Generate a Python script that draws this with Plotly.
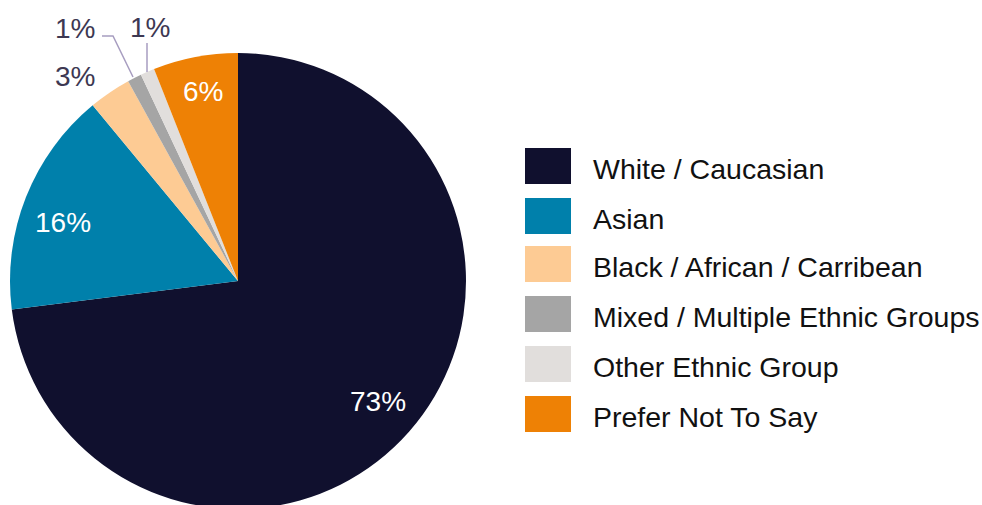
import plotly.graph_objects as go

# Ethnicity breakdown (percent of respondents)
categories = [
    "White / Caucasian",
    "Asian",
    "Black / African / Carribean",
    "Mixed / Multiple Ethnic Groups",
    "Other Ethnic Group",
    "Prefer Not To Say",
]
shares = [73, 16, 3, 1, 1, 6]
colors = ["#10102e", "#0080ab", "#fdcb94", "#a5a5a5", "#e1dedc", "#ee8105"]

W, H = 982, 562          # canvas; pie is centred at (238, 281) px
CX, CY, R = 238, 281, 228
FONT = "Liberation Sans, Arial, sans-serif"

fig = go.Figure()
fig.add_trace(go.Pie(
    labels=categories,
    values=shares,
    sort=False,
    direction="clockwise",
    rotation=0,
    marker=dict(colors=colors, line=dict(width=0)),
    textinfo="none",
    hoverinfo="label+percent",
    showlegend=False,
    domain=dict(x=[(CX - R) / W, (CX + R) / W], y=[0, 1]),
))

annotations = []
shapes = []

# Percentage labels: white inside the large slices, dark outside the thin ones
label_pos = [(378, 401), (63, 222), (75, 76), (75, 28), (150, 27), (203, 91)]
for i, (v, (x, y)) in enumerate(zip(shares, label_pos)):
    inside = v >= 5
    annotations.append(dict(
        x=x, y=y, xref="x", yref="y", text=f"{v}%", showarrow=False,
        font=dict(family=FONT, size=28, color="white" if inside else "#3d3852"),
        xanchor="center", yanchor="middle",
    ))

# Leader lines for the two 1% slices
line_style = dict(color="#a79dc0", width=1.5)
shapes.append(dict(type="path", xref="x", yref="y",
                   path="M102,36 L113,36 L133,77", line=line_style))
shapes.append(dict(type="line", xref="x", yref="y",
                   x0=147, y0=43, x1=147, y1=72, line=line_style))

# Legend: swatches and names
row_y = [166, 216, 264, 314, 364, 414]
for name, c, yy in zip(categories, colors, row_y):
    shapes.append(dict(type="rect", xref="x", yref="y",
                       x0=525, x1=571, y0=yy - 18, y1=yy + 18,
                       fillcolor=c, line=dict(width=0)))
    annotations.append(dict(
        x=591, y=yy + 3, xref="x", yref="y", text=name, showarrow=False,
        font=dict(family=FONT, size=28.5, color="#111111"),
        xanchor="left", yanchor="middle",
    ))

fig.update_layout(
    width=W, height=H,
    margin=dict(l=0, r=0, t=0, b=0),
    paper_bgcolor="white", plot_bgcolor="rgba(0,0,0,0)",
    xaxis=dict(range=[0, W], visible=False, fixedrange=True),
    yaxis=dict(range=[H, 0], visible=False, fixedrange=True),
    annotations=annotations,
    shapes=shapes,
)

fig.write_html("out.html", post_script="document.body.style.overflow='hidden';document.body.style.margin='0';")
